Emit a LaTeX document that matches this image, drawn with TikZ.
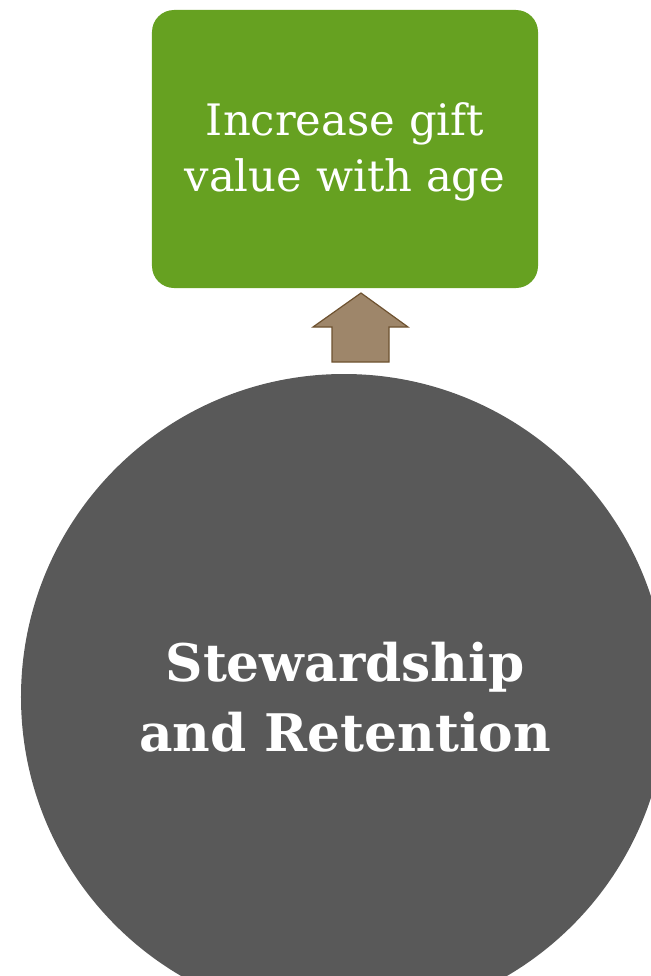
\documentclass[tikz,border=0pt]{standalone}
\usepackage{fontspec}
\setmainfont{DejaVu Serif}
\definecolor{goalgreen}{HTML}{66A121}
\definecolor{coregray}{HTML}{595959}
\definecolor{arrowfill}{HTML}{9E866A}
\definecolor{arrowline}{HTML}{6E5230}
\tikzset{
  goalbox/.style={fill=goalgreen, rounded corners=22bp, minimum width=386bp,
    minimum height=278bp},
  goallabel/.style={text=white, align=center,
    font=\fontsize{43.5}{56}\selectfont},
  corecircle/.style={fill=coregray, circle, minimum size=646bp, inner sep=0pt},
  corelabel/.style={text=white, align=center,
    font=\bfseries\fontsize{52}{70}\selectfont},
  uparrow/.style={fill=arrowfill, draw=arrowline, line width=1.2bp, line join=miter}
}
\begin{document}
\begin{tikzpicture}[x=1bp,y=-1bp]
\useasboundingbox (0,0) rectangle (651,976);
\clip (0,0) rectangle (651,976);
% stewardship circle, running off the right and bottom edges
\node[corecircle] (core) at (344,697) {};
\node[corelabel] (corelbl) at (345,697) {Stewardship\\and Retention};
% goal box
\node[goalbox] (goal) at (345,149) {};
\node[goallabel] (goallbl) at (345,152) {Increase gift\\value with age};
% block arrow pointing up to the goal
\draw[uparrow] (361,293) -- (408,327) -- (389,327) -- (389,362) -- (332,362) -- (332,327) -- (313,327) -- cycle;
\end{tikzpicture}
\end{document}
